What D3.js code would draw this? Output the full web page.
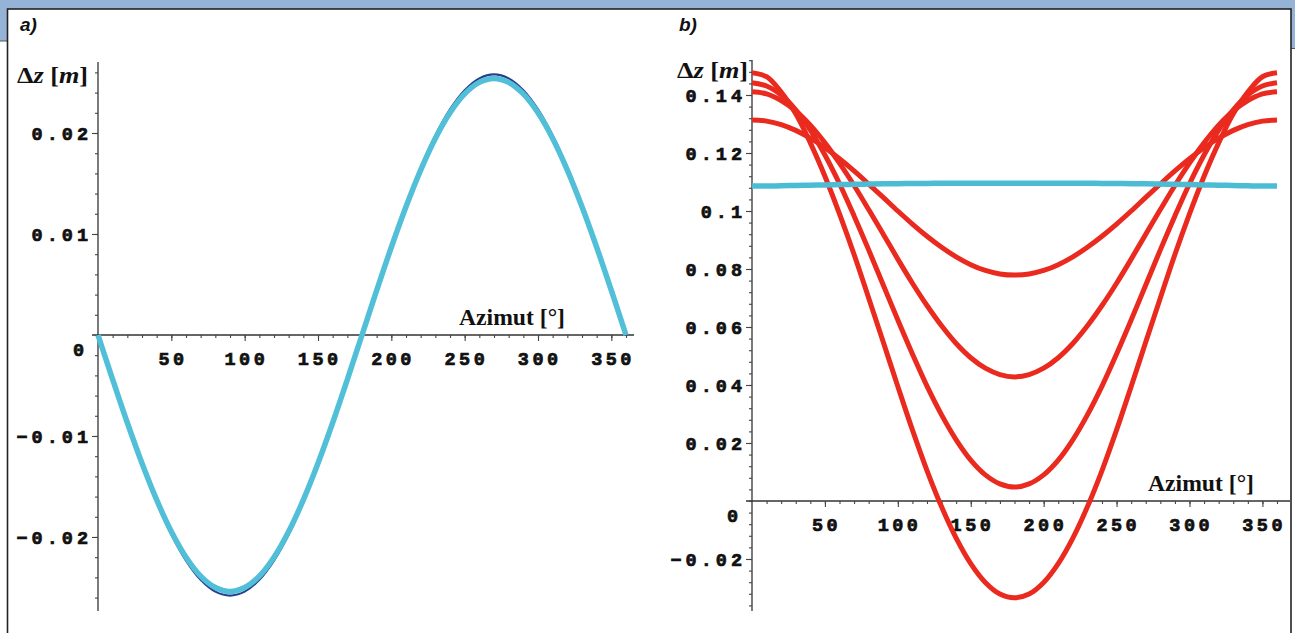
<!DOCTYPE html>
<html><head><meta charset="utf-8">
<script src="https://cdn.jsdelivr.net/npm/d3@7"></script>
<style>body{margin:0;background:#fff}svg{display:block}</style>
</head><body>
<svg id="c" width="1295" height="633"></svg>
<script>
// ---------- data ----------
const azimuth = [0,10,20,30,40,50,60,70,80,90,100,110,120,130,140,150,160,170,180,
  190,200,210,220,230,240,250,260,270,280,290,300,310,320,330,340,350,360];

// panel a
const dzA = [0,-0.00441,-0.00869,-0.0127,-0.01633,-0.01946,-0.022,-0.02387,-0.02501,-0.0254,
  -0.02501,-0.02387,-0.022,-0.01946,-0.01633,-0.0127,-0.00869,-0.00441,0,
  0.00441,0.00869,0.0127,0.01633,0.01946,0.022,0.02387,0.02501,0.0254,
  0.02501,0.02387,0.022,0.01946,0.01633,0.0127,0.00869,0.00441,0];
const dzAdark = [0,-0.00448,-0.00882,-0.0129,-0.01658,-0.01976,-0.02234,-0.02424,-0.02541,-0.0258,
  -0.02541,-0.02424,-0.02234,-0.01976,-0.01658,-0.0129,-0.00882,-0.00448,0,
  0.00448,0.00882,0.0129,0.01658,0.01976,0.02234,0.02424,0.02541,0.0258,
  0.02541,0.02424,0.02234,0.01976,0.01658,0.0129,0.00882,0.00448,0];

// panel b
const dzB1 = [0.1477,0.1463,0.1410,0.1335,0.1235,0.1120,0.0990,0.0850,0.0700,0.0548,0.0395,0.0245,0.0105,-0.0020,-0.0128,-0.0216,-0.0281,-0.0321,-0.0334,
  -0.0321,-0.0281,-0.0216,-0.0128,-0.0020,0.0105,0.0245,0.0395,0.0548,0.0700,0.0850,0.0990,0.1120,0.1235,0.1335,0.1410,0.1463,0.1477];
const dzB2 = [0.1442,0.1431,0.1400,0.1349,0.1279,0.1193,0.1094,0.0983,0.0866,0.0745,0.0624,0.0507,0.0396,0.0297,0.0211,0.0141,0.0090,0.0059,0.0048,
  0.0059,0.0090,0.0141,0.0211,0.0297,0.0396,0.0507,0.0624,0.0745,0.0866,0.0983,0.1094,0.1193,0.1279,0.1349,0.1400,0.1431,0.1442];
const dzB3 = [0.1411,0.1404,0.1381,0.1345,0.1296,0.1235,0.1165,0.1088,0.1005,0.0920,0.0834,0.0751,0.0674,0.0604,0.0543,0.0494,0.0458,0.0436,0.0428,
  0.0436,0.0458,0.0494,0.0543,0.0604,0.0674,0.0751,0.0834,0.0920,0.1005,0.1088,0.1165,0.1235,0.1296,0.1345,0.1381,0.1404,0.1411];
const dzB4 = [0.1314,0.1310,0.1298,0.1278,0.1251,0.1218,0.1180,0.1138,0.1093,0.1047,0.1000,0.0955,0.0913,0.0875,0.0842,0.0815,0.0795,0.0783,0.0779,
  0.0783,0.0795,0.0815,0.0842,0.0875,0.0913,0.0955,0.1000,0.1047,0.1093,0.1138,0.1180,0.1218,0.1251,0.1278,0.1298,0.1310,0.1314];
const dzBcyan = [0.1086,0.1086,0.1087,0.1088,0.1089,0.1090,0.1091,0.1092,0.1093,0.1094,0.1094,0.1095,0.1095,0.1096,0.1096,0.1096,0.1096,0.1096,0.1096,
  0.1096,0.1096,0.1096,0.1096,0.1096,0.1095,0.1095,0.1094,0.1094,0.1093,0.1092,0.1091,0.1090,0.1089,0.1088,0.1087,0.1086,0.1086];

// ticks
const xTicks = [50,100,150,200,250,300,350];
const xTickLabels = ["50","100","150","200","250","300","350"];
const yTicksA = [-0.02,-0.01,0.01,0.02];
const yTickLabelsA = ["\u22120.02","\u22120.01","0.01","0.02"];
const yTicksB = [-0.02,0.02,0.04,0.06,0.08,0.1,0.12,0.14];
const yTickLabelsB = ["\u22120.02","0.02","0.04","0.06","0.08","0.1","0.12","0.14"];
const panelLabels = ["a)","b)"];
const yTitle = ["\u0394","z"," [","m","]"];
const xTitle = "Azimut [\u00b0]";

// ---------- frame ----------
const svg = d3.select("#c");
const BLUE = "#95b3d7";
svg.append("rect").attr("x",0).attr("y",0).attr("width",1295).attr("height",41).attr("fill",BLUE);
svg.append("rect").attr("x",1291).attr("y",0).attr("width",4).attr("height",48).attr("fill",BLUE);
svg.append("line").attr("x1",0).attr("x2",8).attr("y1",41).attr("y2",41).attr("stroke","#555").attr("stroke-width",1);
svg.append("line").attr("x1",1291).attr("x2",1295).attr("y1",48.5).attr("y2",48.5).attr("stroke","#555").attr("stroke-width",1);
svg.append("rect").attr("x",7.5).attr("y",9).attr("width",1283.5).attr("height",640)
  .attr("fill","#fff").attr("stroke","#222").attr("stroke-width",1.6);

const MONO = "'Liberation Mono','DejaVu Sans Mono',monospace";
const SERIF = "'Liberation Serif','Times New Roman',serif";

function monoText(sel){
  return sel.attr("font-family",MONO).attr("font-weight","bold")
    .attr("font-size",18.5).attr("fill","#111").attr("stroke","#111").attr("stroke-width",0.7);
}

function panel(cfg){
  const g = svg.append("g");
  const x = d3.scaleLinear().domain([0,360]).range(cfg.xr);
  const y = d3.scaleLinear().domain(cfg.yd).range([610, cfg.top]);
  const x0 = x(0), y0 = y(0);

  // axis lines
  g.append("line").attr("x1",x0).attr("x2",x0).attr("y1",cfg.top).attr("y2",611)
    .attr("stroke","#333").attr("stroke-width",1.3);
  g.append("line").attr("x1",x0-6).attr("x2",cfg.xEnd).attr("y1",y0).attr("y2",y0)
    .attr("stroke","#333").attr("stroke-width",1.3);

  // y ticks (minor + major) via d3 axis
  const yMinor = d3.range(cfg.yMinorStart, cfg.yd[1], cfg.yMinorStep).map(v=>+v.toFixed(4));
  const ya = g.append("g").attr("transform",`translate(${x0},0)`)
    .call(d3.axisLeft(y).tickValues(yMinor).tickSize(3).tickFormat(""));
  const yb = g.append("g").attr("transform",`translate(${x0},0)`)
    .call(d3.axisLeft(y).tickValues(cfg.yTicks).tickSize(6).tickFormat(""));
  // x ticks
  const xMinor = d3.range(10,361,10);
  const xa = g.append("g").attr("transform",`translate(0,${y0})`)
    .call(d3.axisBottom(x).tickValues(xMinor).tickSize(3).tickFormat(""));
  const xb = g.append("g").attr("transform",`translate(0,${y0})`)
    .call(d3.axisBottom(x).tickValues(xTicks).tickSize(6).tickFormat(""));
  [ya,yb,xa,xb].forEach(s=>{
    s.select(".domain").remove();
    s.selectAll(".tick line").attr("stroke","#444").attr("stroke-width",1.1);
  });

  // y tick labels
  monoText(g.selectAll(".yl").data(cfg.yTicks).enter().append("text")
    .attr("x",x0-10+4).attr("y",d=>y(d)).attr("dy","0.38em")
    .attr("text-anchor","end").attr("letter-spacing",4))
    .text((d,i)=>cfg.yLabels[i]);
  // zero label (placed below the axis, as in the original)
  monoText(g.append("text").attr("x",x0-14+4).attr("y",y0+14).attr("dy","0.38em")
    .attr("text-anchor","end").attr("letter-spacing",4)).text("0");
  // x tick labels
  monoText(g.selectAll(".xl").data(xTicks).enter().append("text")
    .attr("x",d=>x(d)+1.7).attr("y",y0+23).attr("dy","0.38em")
    .attr("text-anchor","middle").attr("letter-spacing",3.5))
    .text((d,i)=>xTickLabels[i]);

  // y title
  const t = g.append("text").attr("x",cfg.yTitleX).attr("y",cfg.yTitleY)
    .attr("font-family",SERIF).attr("font-weight","bold").attr("font-size",23).attr("fill","#111")
    .attr("textLength",71).attr("lengthAdjust","spacingAndGlyphs");
  yTitle.forEach((s,i)=>{
    t.append("tspan").attr("font-style",(i===1||i===3)?"italic":"normal").text(s);
  });
  // x title
  g.append("text").attr("x",cfg.xTitleX).attr("y",y0-10)
    .attr("font-family",SERIF).attr("font-weight","bold").attr("font-size",22.5).attr("fill","#111")
    .attr("textLength",106).attr("lengthAdjust","spacingAndGlyphs").text(xTitle);
  // panel label
  g.append("text").attr("x",cfg.labX).attr("y",31)
    .attr("font-family","'Liberation Sans',Arial,sans-serif").attr("font-weight","bold")
    .attr("font-style","italic").attr("font-size",19).attr("fill","#111").text(cfg.label);

  // series
  const line = d3.line().x((d,i)=>x(azimuth[i])).y(d=>y(d)).curve(d3.curveCatmullRom);
  cfg.series.forEach(s=>{
    g.append("path").datum(s.data).attr("d",line).attr("fill","none")
      .attr("stroke",s.color).attr("stroke-width",s.w).attr("stroke-linejoin","round");
  });
}

panel({
  xr:[98,626], top:62, yd:[-0.02723,0.02703], xEnd:634,
  yTicks:yTicksA, yLabels:yTickLabelsA, yMinorStart:-0.026, yMinorStep:0.002,
  yTitleX:17, yTitleY:83, xTitleX:459, labX:20, label:panelLabels[0],
  series:[
    {data:dzAdark, color:"#27408b", w:2.2},
    {data:dzA, color:"#52bfd8", w:5.5}
  ]
});
panel({
  xr:[752,1277], top:60, yd:[-0.03759,0.15207], xEnd:1290,
  yTicks:yTicksB, yLabels:yTickLabelsB, yMinorStart:-0.036, yMinorStep:0.004,
  yTitleX:677, yTitleY:78, xTitleX:1148, labX:679, label:panelLabels[1],
  series:[
    {data:dzB1, color:"#ea2a1e", w:5},
    {data:dzB2, color:"#ea2a1e", w:5},
    {data:dzB3, color:"#ea2a1e", w:5},
    {data:dzB4, color:"#ea2a1e", w:5},
    {data:dzBcyan, color:"#4cbcd4", w:5.5}
  ]
});
</script>
</body></html>
